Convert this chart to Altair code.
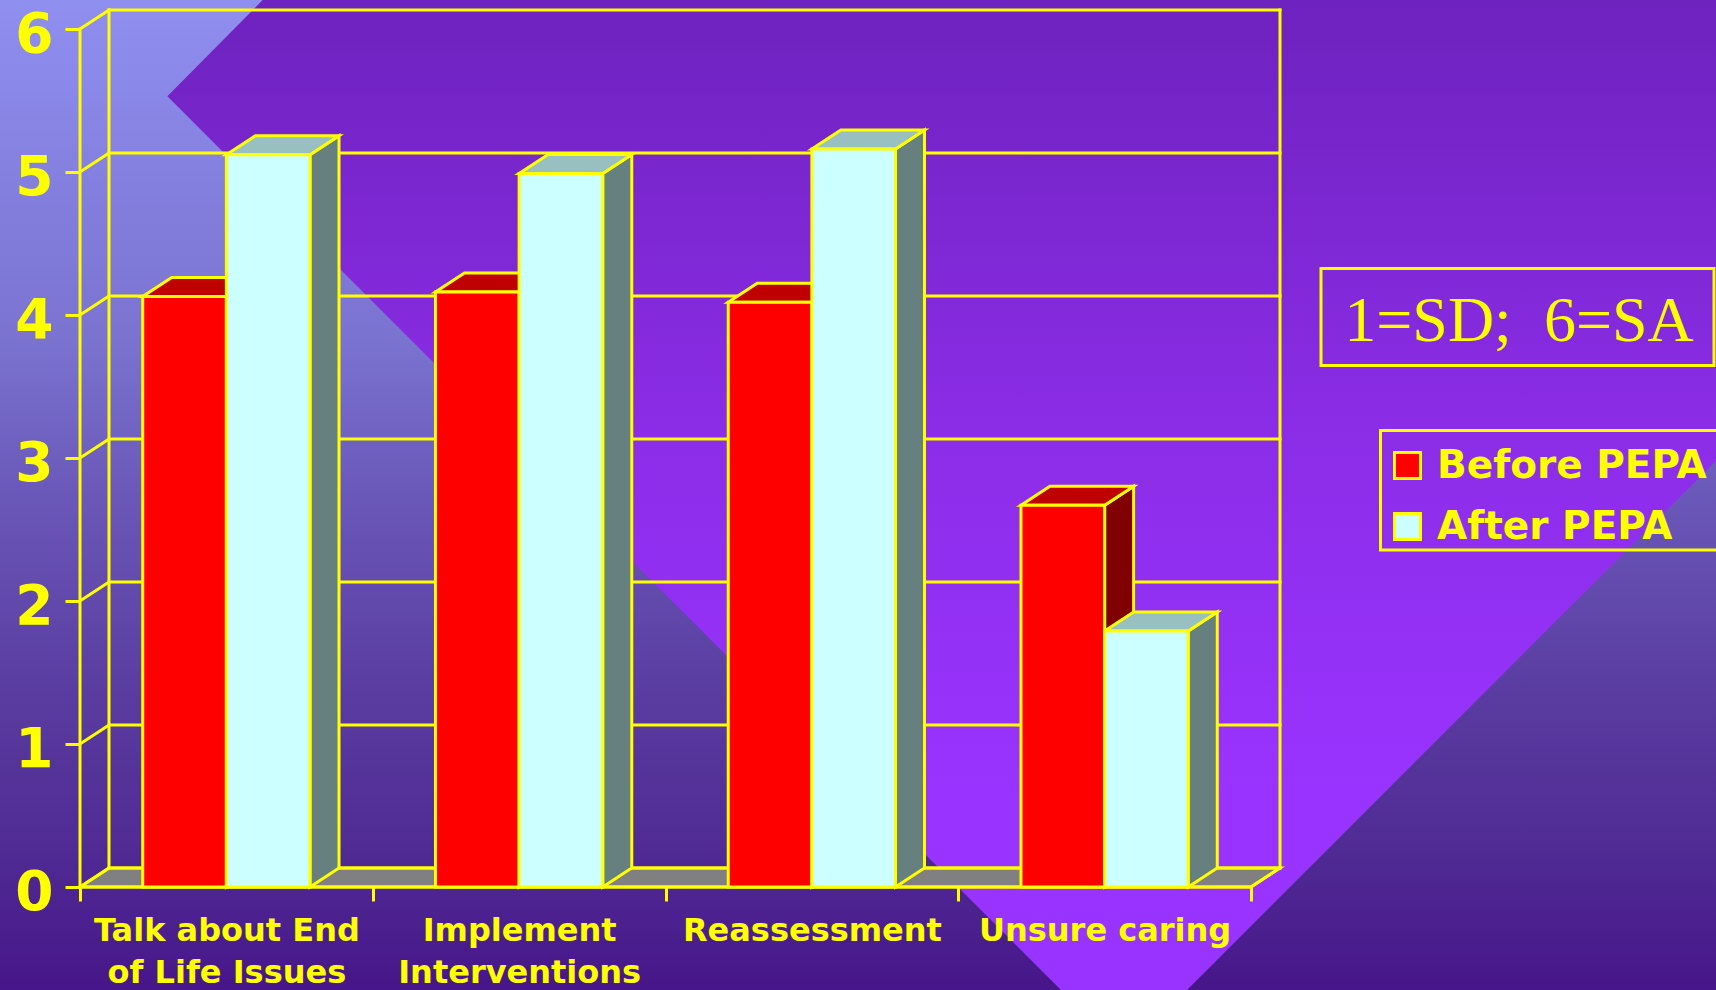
import json
import altair as alt
import pandas as pd

# ---------------- data ----------------
CATEGORIES = ["Talk about End\nof Life Issues", "Implement\nInterventions", "Reassessment", "Unsure caring"]
SERIES = ["Before PEPA", "After PEPA"]
BEFORE = [4.13, 4.16, 4.09, 2.67]
AFTER = [5.12, 4.99, 5.16, 1.79]
Y_TICKS = [0, 1, 2, 3, 4, 5, 6]
NOTE = "1=SD;\u00a0 6=SA"

# ---------------- style / geometry ----------------
YEL = "#ffff00"
SW = 3
FRONT = ["#ff0000", "#ccffff"]
TOP = ["#bf0000", "#99c0c0"]
SIDE = ["#800000", "#668080"]
FLOOR = "#808080"

PLOT_W, PLOT_H = 1200, 877
PAD = {"left": 80, "top": 10, "right": 436, "bottom": 103}
N = len(CATEGORIES)
YMAX = max(Y_TICKS)
DX = 29 / ((PLOT_W - 29) / N)          # depth offset in category units
DY = 19 / ((PLOT_H - 19) / YMAX)       # depth offset in value units
W = 1 / 3.5                            # bar width (gap width 150%)

XS = alt.Scale(domain=[0, N + DX], nice=False, zero=False)
YS = alt.Scale(domain=[0, YMAX + DY], nice=False, zero=False)

label_lines = [c.split("\n") for c in CATEGORIES]
XAX = alt.Axis(
    orient="bottom", title=None, grid=False, domain=False,
    values=[k / 2 for k in range(2 * N + 1)],
    labelExpr=f"datum.value % 1 == 0.5 ? {json.dumps(label_lines)}[floor(datum.value)] : ''",
    tickOpacity={"condition": {"test": "datum.value % 1 != 0", "value": 0}, "value": 1},
    tickColor=YEL, tickWidth=SW, tickSize=14,
    labelFont="DejaVu Sans", labelFontWeight="bold", labelFontSize=32, labelColor=YEL,
    labelLineHeight=42, labelPadding=14, labelOverlap=False, labelFlush=False,
    labelLimit=600, labelBound=False, zindex=1,
)
YAX = alt.Axis(
    orient="left", title=None, grid=False, domain=False, values=Y_TICKS,
    tickColor=YEL, tickWidth=SW, tickSize=15,
    labelFont="DejaVu Sans", labelFontWeight="bold", labelFontSize=55, labelColor=YEL,
    labelBaseline="alphabetic", labelOffset=22,
    labelPadding=12, labelOverlap=False, labelBound=False, zindex=1,
)

def X(f):
    return alt.X(f, scale=XS, axis=XAX)

def Y(f):
    return alt.Y(f, scale=YS, axis=YAX)

# ---------------- build 3-D geometry from data ----------------
fronts, tops, sides = [], [], []
for i, cat in enumerate(CATEGORIES):
    for s, vals in enumerate([BEFORE, AFTER]):
        v = vals[i]
        x0 = i + 0.5 - W + s * W
        x1 = x0 + W
        bid = f"{i}-{s}"
        fronts.append({"x": x0, "x2": x1, "y": 0, "y2": v, "series": SERIES[s], "cat": cat.replace("\n", " "), "value": v})
        for xx, lo, hi in [(x0, v, v), (x0 + DX, v, v + DY), (x1, v, v + DY), (x1 + DX, v + DY, v + DY)]:
            tops.append({"x": xx, "lo": lo, "hi": hi, "id": bid, "c": TOP[s]})
        for xx, lo, hi in [(x1, 0, v), (x1 + DX, DY, v + DY)]:
            sides.append({"x": xx, "lo": lo, "hi": hi, "id": bid, "c": SIDE[s]})

floor_df = pd.DataFrame({"x": [0, DX, N, N + DX], "lo": [0, 0, 0, DY], "hi": [0, DY, DY, DY]})

lines = []
for k in Y_TICKS:
    lines.append({"x": DX, "y": k + DY, "x2": N + DX, "y2": k + DY})   # back wall grid
    lines.append({"x": 0, "y": k, "x2": DX, "y2": k + DY})             # side wall grid
lines += [
    {"x": DX, "y": DY, "x2": DX, "y2": YMAX + DY},
    {"x": N + DX, "y": DY, "x2": N + DX, "y2": YMAX + DY},
    {"x": 0, "y": 0, "x2": 0, "y2": YMAX},
    {"x": 0, "y": 0, "x2": N, "y2": 0},
    {"x": N, "y": 0, "x2": N + DX, "y2": DY},
]
rules_df = pd.DataFrame(lines)

floor = alt.Chart(floor_df).mark_area(orient="vertical", fill=FLOOR, stroke=YEL, strokeWidth=SW).encode(
    x=X("x:Q"), y=Y("lo:Q"), y2="hi:Q")
rules = alt.Chart(rules_df).mark_rule(color=YEL, strokeWidth=SW, strokeCap="square").encode(
    x=X("x:Q"), y=Y("y:Q"), x2="x2:Q", y2="y2:Q")
side_l = alt.Chart(pd.DataFrame(sides)).mark_area(orient="vertical", stroke=YEL, strokeWidth=SW, opacity=1).encode(
    x=X("x:Q"), y=Y("lo:Q"), y2="hi:Q", color=alt.Color("c:N", scale=None), detail="id:N")
top_l = alt.Chart(pd.DataFrame(tops)).mark_area(orient="vertical", stroke=YEL, strokeWidth=SW, opacity=1).encode(
    x=X("x:Q"), y=Y("lo:Q"), y2="hi:Q", color=alt.Color("c:N", scale=None), detail="id:N")
front_l = alt.Chart(pd.DataFrame(fronts)).mark_rect(stroke=YEL, strokeWidth=SW).encode(
    x=X("x:Q"), x2="x2:Q", y=Y("y:Q"), y2="y2:Q",
    fill=alt.Fill("series:N", scale=alt.Scale(domain=SERIES, range=FRONT),
                  legend=alt.Legend(title=None, orient="none", legendX=1308, legendY=436,
                                    symbolType="square", symbolSize=676, symbolStrokeColor=YEL,
                                    symbolStrokeWidth=SW, labelFont="DejaVu Sans", labelFontWeight="bold",
                                    labelFontSize=39, labelColor=YEL, labelLimit=600, labelOffset=10,
                                    rowPadding=21, padding=0)),
    tooltip=["cat:N", "series:N", "value:Q"])

main = alt.layer(floor, rules, side_l, top_l, front_l)

# ---------------- decorative slide background (canvas pixels) ----------------
CW, CH = 1716, 990
PXS = alt.Scale(domain=[0, CW], range=[-PAD["left"], CW - PAD["left"]], nice=False, zero=False)
PYS = alt.Scale(domain=[0, CH], range=[-PAD["top"], CH - PAD["top"]], nice=False, zero=False)

GRAD_BG = alt.LinearGradient(gradient="linear", x1=0, x2=0, y1=0, y2=1, stops=[
    alt.GradientStop(color="#8f8ff0", offset=0),
    alt.GradientStop(color="#7a72cf", offset=0.35),
    alt.GradientStop(color="#6a58b8", offset=0.5),
    alt.GradientStop(color="#5a3ca0", offset=0.7),
    alt.GradientStop(color="#502c94", offset=0.85),
    alt.GradientStop(color="#47168a", offset=1),
])
GRAD_PURPLE = alt.LinearGradient(gradient="linear", x1=0, x2=0, y1=0, y2=1, stops=[
    alt.GradientStop(color="#6e22be", offset=0),
    alt.GradientStop(color="#8c2de8", offset=0.45),
    alt.GradientStop(color="#9933ff", offset=0.8),
    alt.GradientStop(color="#9933ff", offset=1),
])

bg_rect = alt.Chart(pd.DataFrame({"x": [0], "x2": [CW], "y": [0], "y2": [CH]})).mark_rect(
    fill=GRAD_BG, strokeWidth=0).encode(
    x=alt.X("x:Q", scale=PXS, axis=None), x2="x2:Q", y=alt.Y("y:Q", scale=PYS, axis=None), y2="y2:Q")
chevron = alt.Chart(pd.DataFrame({"x": [167.4, 262.7, 1061, 1187, CW],
                                  "y": [96.3, 0, 0, 0, 0],
                                  "y2": [96.3, 191.7, CH, CH, 461]})).mark_area(
    orient="vertical", fill=GRAD_PURPLE, strokeWidth=0).encode(
    x=alt.X("x:Q", scale=PXS, axis=None), y=alt.Y("y:Q", scale=PYS, axis=None), y2="y2:Q")
boxes = alt.Chart(pd.DataFrame({"x": [1321, 1380.5], "x2": [1714, 1730], "y": [268.5, 430.5], "y2": [365.5, 550]})).mark_rect(
    fill="transparent", stroke=YEL, strokeWidth=SW).encode(
    x=alt.X("x:Q", scale=PXS, axis=None), x2="x2:Q", y=alt.Y("y:Q", scale=PYS, axis=None), y2="y2:Q")
note = alt.Chart(pd.DataFrame({"x": [1519], "y": [341], "t": [NOTE]})).mark_text(
    font="Liberation Serif", fontSize=64, color=YEL, align="center", baseline="alphabetic").encode(
    x=alt.X("x:Q", scale=PXS, axis=None), y=alt.Y("y:Q", scale=PYS, axis=None), text="t:N")

bg_layer = alt.layer(bg_rect, chevron, boxes, note)

chart = alt.layer(bg_layer, main).resolve_scale(x="independent", y="independent").properties(
    width=PLOT_W, height=PLOT_H, padding=PAD, autosize=alt.AutoSizeParams(type="none"),
    background="#47168a",
).configure_view(stroke="transparent")

chart.save("out.html", embed_options={"renderer": "svg", "actions": False})
